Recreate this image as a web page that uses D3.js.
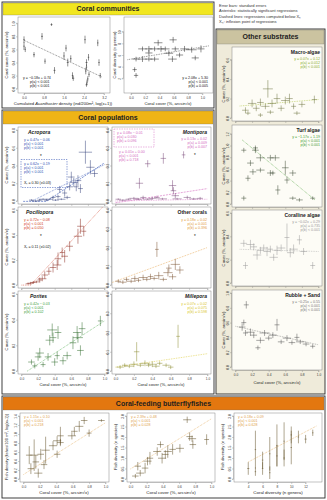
<!DOCTYPE html>
<html><head><meta charset="utf-8">
<script src="https://cdn.jsdelivr.net/npm/d3@7"></script>
<style>body{margin:0;background:#fff}svg{display:block;font-family:"Liberation Sans",Arial,sans-serif}</style>
</head><body><script>
// ================= DATA =================
const headerTitles = ["Coral communities","Coral populations","Other substrates","Coral-feeding butterflyfishes"];
const legendLines = ["Error bars: standard errors","Asterisks: statistically significant regressions","Dashed lines: regressions computed below Xₙ","Xₙ: inflexion point of regressions"];
const coverTicks = [0,0.2,0.4,0.6,0.8,1.0];

// Coral communities  [x, y, xSE, ySE]
const densTicks = [0,0.8,1.6,2.4,3.2];
const commCoverTicks = [0,0.2,0.4,0.6,0.8,1.0];
const commDens = [[0,0.75,0.03,0.05],[0,0.65,0.03,0.06],[0.05,0.6,0.02,0.04],[0.4,0.52,0.04,0.04],[0.72,0.8,0.04,0.05],[0.84,0.42,0.03,0.04],[1.1,0.98,0.04,0.02],[1.22,0.28,0.04,0.05],[1.6,0.5,0.03,0.06],[1.68,0.62,0.03,0.05],[1.75,0.4,0.04,0.06],[1.87,0.46,0.03,0.05],[1.94,0.2,0.03,0.05],[1.97,0.16,0.04,0.04],[2.44,0.75,0.03,0.06],[2.5,0.4,0.04,0.05],[2.5,0.33,0.03,0.04],[2.47,0.27,0.03,0.05],[2.55,0.15,0.03,0.04],[2.52,0.1,0.03,0.04],[2.5,0.06,0.04,0.03],[2.58,0.48,0.03,0.05],[2.95,0.7,0.03,0.05],[3.0,0.4,0.03,0.05],[3.05,0.2,0.03,0.04],[2.6,0.22,0.03,0.04]];
const commDensFit = {a:-0.18,b:0.74,x0:0,x1:3.1};
const divTicks = [2,4,6,8,10];
const commDiv = [[0.05,3.5,0.03,0.4],[0.07,2.5,0.03,0.4],[0.16,7.05,0.06,0.4],[0.25,7.05,0.05,0.5],[0.33,7.05,0.07,0.4],[0.42,7.05,0.05,0.5],[0.48,7.05,0.06,0.4],[0.07,5.3,0.05,0.4],[0.16,5.3,0.06,0.5],[0.25,5.3,0.05,0.4],[0.33,5.3,0.06,0.4],[0.25,6.35,0.05,0.5],[0.38,8.1,0.06,0.5],[0.59,8.6,0.05,0.5],[0.85,6.9,0.07,0.5],[0.98,7.05,0.05,0.6],[0.9,5.5,0.05,0.4],[0.58,5.3,0.06,0.5],[0.68,6.0,0.05,0.4],[0.75,7.05,0.06,0.5],[0.62,7.05,0.05,0.4],[0.53,6.3,0.06,0.5]];
const commDivFit = {a:2.08,b:5.30,x0:-0.05,x1:1.1};

// Coral populations
const acroData = [[0.12,0.01,0.03,0.01],[0.17,0.00,0.04,0.01],[0.22,0.01,0.03,0.01],[0.26,0.02,0.05,0.01],[0.30,0.01,0.03,0.01],[0.34,0.02,0.04,0.01],[0.38,0.04,0.03,0.02],[0.41,0.01,0.04,0.01],[0.44,0.05,0.03,0.02],[0.48,0.02,0.05,0.01],[0.52,0.09,0.03,0.04],[0.55,0.04,0.04,0.02],[0.58,0.16,0.04,0.04],[0.60,0.27,0.04,0.06],[0.63,0.21,0.05,0.05],[0.66,0.16,0.03,0.05],[0.68,0.23,0.04,0.06],[0.71,0.14,0.03,0.05],[0.77,0.55,0.08,0.13],[0.83,0.38,0.05,0.08],[0.88,0.31,0.04,0.04],[0.46,0.13,0.03,0.04]];
const acroFit = {a:0.47,b:-0.06,x0:0.13,x1:1.0};
const acroSeg = {a:0.62,b:-0.19,xn:0.30,x0:0.02,x1:1.0};
const montiData = [[0.03,0.01,0.03,0.005],[0.08,0.005,0.04,0.005],[0.14,0.01,0.03,0.005],[0.2,0.015,0.05,0.008],[0.25,0.01,0.04,0.005],[0.3,0.02,0.03,0.01],[0.35,0.01,0.05,0.005],[0.40,0.015,0.04,0.008],[0.45,0.02,0.03,0.01],[0.26,0.10,0.04,0.03],[0.35,0.21,0.03,0.02],[0.52,0.24,0.03,0.03],[0.51,0.012,0.05,0.006],[0.62,0.087,0.04,0.03],[0.63,0.058,0.03,0.02],[0.65,0.03,0.04,0.015],[0.67,0.012,0.05,0.006],[0.74,0.26,0.02,0.02],[0.78,0.02,0.04,0.01],[0.85,0.012,0.05,0.006],[0.92,0.015,0.03,0.008]];
const montiFitA = {a:0.08,b:-0.01,x0:0,x1:1.0};
const montiFitB = {a:0.01,b:0.00,x0:0,x1:1.0};
const montiFitC = {a:0.13,b:0.02};
const pocilData = [[0.08,0.01,0.03,0.005],[0.11,0.015,0.04,0.01],[0.14,0.02,0.03,0.01],[0.18,0.025,0.04,0.01],[0.22,0.04,0.03,0.02],[0.25,0.05,0.05,0.02],[0.28,0.08,0.04,0.03],[0.33,0.11,0.03,0.03],[0.38,0.14,0.04,0.04],[0.43,0.16,0.05,0.04],[0.44,0.21,0.04,0.05],[0.49,0.26,0.03,0.04],[0.52,0.23,0.04,0.05],[0.58,0.31,0.04,0.04],[0.68,0.39,0.05,0.06],[0.71,0.47,0.04,0.06],[0.75,0.43,0.03,0.04]];
const pocilFit = {a:0.72,b:-0.08,xn:0.11,x0:0,x1:1.0};
const otherData = [[0.03,0.02,0.03,0.01],[0.08,0.015,0.04,0.01],[0.12,0.03,0.03,0.01],[0.17,0.02,0.05,0.01],[0.21,0.035,0.04,0.015],[0.25,0.025,0.03,0.01],[0.3,0.04,0.05,0.015],[0.34,0.03,0.04,0.01],[0.38,0.045,0.03,0.015],[0.42,0.035,0.04,0.01],[0.47,0.05,0.05,0.02],[0.45,0.19,0.02,0.04],[0.52,0.03,0.04,0.01],[0.57,0.066,0.05,0.02],[0.62,0.044,0.04,0.015],[0.65,0.11,0.05,0.03],[0.7,0.08,0.04,0.02],[0.58,0.09,0.03,0.02]];
const otherFit = {a:0.18,b:0.02,x0:-0.04,x1:1.0};
const poritData = [[0.12,0.07,0.04,0.02],[0.16,0.04,0.03,0.02],[0.2,0.11,0.04,0.03],[0.22,0.14,0.05,0.04],[0.26,0.05,0.03,0.02],[0.32,0.11,0.04,0.03],[0.34,0.24,0.05,0.04],[0.37,0.32,0.06,0.05],[0.38,0.26,0.04,0.04],[0.4,0.07,0.04,0.03],[0.43,0.12,0.03,0.03],[0.44,0.3,0.04,0.05],[0.5,0.08,0.04,0.03],[0.55,0.12,0.05,0.03],[0.62,0.22,0.04,0.05],[0.67,0.3,0.05,0.05],[0.68,0.26,0.06,0.04],[0.71,0.16,0.04,0.04],[0.73,0.33,0.04,0.05],[0.95,0.39,0.03,0.04]];
const poritFit = {a:0.42,b:-0.03,x0:0.07,x1:1.0};
const milleData = [[0.05,0.02,0.04,0.01],[0.1,0.03,0.03,0.01],[0.15,0.025,0.05,0.01],[0.2,0.035,0.04,0.015],[0.23,0.1,0.03,0.05],[0.27,0.03,0.04,0.01],[0.32,0.04,0.05,0.015],[0.36,0.03,0.03,0.01],[0.4,0.035,0.05,0.015],[0.44,0.025,0.04,0.01],[0.48,0.04,0.03,0.01],[0.55,0.03,0.04,0.01],[0.6,0.02,0.03,0.01],[0.68,0.18,0.02,0.06]];
const milleFit = {a:0.07,b:0.02,x0:0,x1:1.0};

// Other substrates
const macroData = [[0.12,0.08,0.04,0.03],[0.15,0.05,0.03,0.02],[0.2,0.15,0.05,0.04],[0.25,0.1,0.04,0.03],[0.3,0.16,0.04,0.04],[0.3,0.03,0.03,0.02],[0.36,0.12,0.05,0.03],[0.39,0.30,0.06,0.09],[0.42,0.06,0.04,0.02],[0.44,0.15,0.05,0.04],[0.5,0.2,0.04,0.05],[0.55,0.1,0.04,0.03],[0.6,0.18,0.05,0.04],[0.65,0.2,0.04,0.05],[0.7,0.12,0.03,0.03],[0.74,0.05,0.04,0.02],[0.8,0.14,0.04,0.03],[0.95,0.19,0.03,0.04]];
const macroFit = {a:0.07,b:0.12,x0:0.05,x1:1.0};
const turfData = [[0.1,0.92,0.03,0.04],[0.24,0.92,0.04,0.05],[0.18,0.7,0.04,0.05],[0.3,0.79,0.05,0.06],[0.42,0.79,0.04,0.05],[0.48,0.79,0.05,0.05],[0.21,0.55,0.04,0.05],[0.3,0.58,0.05,0.04],[0.42,0.53,0.04,0.05],[0.45,0.53,0.03,0.04],[0.6,0.62,0.04,0.12],[0.69,0.53,0.04,0.05],[0.62,0.41,0.03,0.06],[0.15,0.44,0.03,0.05],[0.51,0.24,0.03,0.08],[0.1,0.1,0.03,0.04],[0.69,0.1,0.04,0.03],[0.77,0.07,0.04,0.03],[0.93,0.1,0.03,0.03],[0.24,0.96,0.03,0.04]];
const turfFit = {a:-1.17,b:1.19,x0:0.08,x1:0.96};
const corallData = [[0.1,0.34,0.04,0.03],[0.12,0.15,0.03,0.03],[0.18,0.33,0.05,0.04],[0.22,0.31,0.04,0.03],[0.26,0.24,0.05,0.04],[0.3,0.28,0.04,0.03],[0.34,0.3,0.05,0.03],[0.38,0.27,0.04,0.04],[0.42,0.29,0.03,0.03],[0.46,0.22,0.05,0.03],[0.5,0.28,0.04,0.04],[0.55,0.3,0.05,0.03],[0.62,0.39,0.03,0.12],[0.66,0.26,0.04,0.04],[0.7,0.29,0.05,0.04],[0.77,0.37,0.03,0.04],[0.82,0.27,0.04,0.03],[0.93,0.15,0.03,0.03]];
const corallFit = {a:-0.02,b:0.29,x0:0.05,x1:1.0};
const rubbleData = [[0.13,0.84,0.03,0.05],[0.08,0.54,0.04,0.05],[0.12,0.46,0.03,0.04],[0.18,0.47,0.05,0.05],[0.22,0.43,0.04,0.04],[0.27,0.26,0.03,0.03],[0.3,0.36,0.05,0.04],[0.35,0.46,0.06,0.04],[0.4,0.39,0.04,0.03],[0.45,0.43,0.05,0.04],[0.5,0.57,0.03,0.08],[0.55,0.34,0.04,0.03],[0.62,0.39,0.05,0.04],[0.68,0.33,0.04,0.03],[0.74,0.4,0.03,0.05],[0.78,0.34,0.05,0.03],[0.93,0.28,0.03,0.03],[0.85,0.31,0.04,0.03],[0.1,0.6,0.03,0.04]];
const rubbleFit = {a:-0.25,b:0.55,x0:0,x1:1.0};

// Butterflyfishes
const fishDensTicks = [0,0.2,0.4,0.6,0.8,1.0,1.2,1.4];
const fishDivTicks = [0,0.5,1.0,1.5,2.0,2.5,3.0];
const genusTicks = [4,6,8,10,12];
const fishAData = [[0.74,1.3,0.04,0.08],[0.95,1.3,0.04,0.03],[0.68,1.17,0.05,0.12],[0.62,1.06,0.04,0.1],[0.8,1.02,0.03,0.08],[0.59,0.96,0.05,0.08],[0.45,0.96,0.04,0.2],[0.41,0.85,0.05,0.1],[0.45,0.81,0.04,0.08],[0.36,0.74,0.05,0.1],[0.41,0.55,0.04,0.08],[0.27,0.64,0.05,0.3],[0.21,0.55,0.04,0.12],[0.13,0.53,0.05,0.35],[0.07,0.53,0.04,0.2],[0.15,0.38,0.04,0.15],[0.18,0.13,0.05,0.1],[0.25,0.32,0.04,0.1],[0.09,0.23,0.04,0.12]];
const fishAFit = {a:1.15,b:0.10,x0:0,x1:1.0};
const fishBData = [[0.7,2.82,0.05,0.15],[0.73,2.02,0.04,0.2],[0.76,1.92,0.05,0.15],[0.77,1.64,0.04,0.2],[0.94,1.88,0.03,0.25],[0.61,1.46,0.05,0.2],[0.52,1.41,0.04,0.25],[0.46,1.31,0.05,0.3],[0.43,1.17,0.04,0.2],[0.39,0.99,0.05,0.25],[0.09,0.61,0.04,0.2],[0.12,0.28,0.05,0.15],[0.18,0.52,0.04,0.25],[0.21,0.85,0.05,0.2],[0.24,0.99,0.04,0.3],[0.33,1.31,0.05,0.2],[0.37,1.64,0.04,0.15],[0.06,0.14,0.04,0.1]];
const fishBFit = {a:2.39,b:0.48,x0:0,x1:1.0};
const fishCData = [[4,0.5,0.15,0.3],[5,1.4,0.1,0.9],[5,0.35,0.1,0.2],[6,0.9,0.1,0.4],[6,0.5,0.1,0.3],[7,1.2,0.1,0.8],[7,0.3,0.1,0.3],[8,1.6,0.1,1.0],[8,1.1,0.1,0.5],[9,1.8,0.1,0.9],[9,1.0,0.1,0.4],[10,1.5,0.1,0.8],[10,2.1,0.1,0.4],[11,2.0,0.1,0.3],[12,1.9,0.15,0.2],[13,2.2,0.1,0.15]];
const fishCFit = {a:0.18,b:0.09,x0:4,x1:13.5};

// ================= DRAWING =================
const svg = d3.select('body').append('svg').attr('width',327).attr('height',500);
const defs = svg.append('defs');
let clipN = 0;
const f1 = d3.format('.1f');
function eqStr(f){const s=f.b<0?'−':'+';return `y = ${f.a<0?'−':''}${Math.abs(f.a).toFixed(2)}x ${s} ${Math.abs(f.b).toFixed(2)}`;}

function box(x,y,w,h,fill,hfill,hh,title,tcol){
  svg.append('rect').attr('x',x).attr('y',y).attr('width',w).attr('height',h).attr('fill',fill).attr('stroke','#2a2a2a').attr('stroke-width',0.9);
  svg.append('rect').attr('x',x+1).attr('y',y+1).attr('width',w-2).attr('height',hh).attr('fill',hfill).attr('stroke','#6a6a6a').attr('stroke-width',0.3);
  svg.append('text').attr('x',x+w/2).attr('y',y+1+hh/2+2.4).attr('text-anchor','middle').attr('font-size',7).attr('font-weight','bold').attr('fill',tcol||'#1e1e1e').text(title);
}
function txt(x,y,t,o={}){
  return svg.append('text').attr('x',x).attr('y',y).attr('font-size',o.size||3.6).attr('fill',o.color||'#222')
   .attr('text-anchor',o.anchor||'start').attr('font-weight',o.weight||'normal').attr('font-style',o.style||'normal').text(t);
}
function block(x,y,lines,color,anchor){lines.forEach((l,i)=>txt(x,y+i*4.2,l,{color,anchor}));}
function vtitle(x,cy,t,size){svg.append('text').attr('transform',`translate(${x},${cy}) rotate(-90)`).attr('text-anchor','middle').attr('font-size',size||4.2).attr('fill','#222').text(t);}

function panel(c){
  const f=c.frame, g=svg.append('g');
  g.append('rect').attr('x',f.x).attr('y',f.y).attr('width',f.w).attr('height',f.h).attr('fill',c.bg||'#fff').attr('stroke','#7a7a7a').attr('stroke-width',0.45);
  const x=d3.scaleLinear().domain(c.xd).range([f.x+3.5,f.x+f.w-3.5]);
  const y=d3.scaleLinear().domain(c.yd).range([f.y+f.h-3,f.y+3]);
  const ya=g.append('g').attr('transform',`translate(${f.x-0.5},0)`).call(d3.axisLeft(y).tickValues(c.yt).tickSize(1.5).tickSizeOuter(0).tickFormat(c.yf||f1));
  ya.selectAll('text').attr('font-size',3.2).attr('fill','#333').attr('dy',null).attr('text-anchor','middle').attr('x',0).attr('y',-2.6).attr('transform','rotate(-90)');
  ya.select('.domain').attr('d',`M-1.5,${y(c.yt[0])}H0V${y(c.yt[c.yt.length-1])}H-1.5`).attr('stroke','#777').attr('stroke-width',0.35);
  const xa=g.append('g').attr('transform',`translate(0,${f.y+f.h+0.5})`).call(d3.axisBottom(x).tickValues(c.xt).tickSize(1.5).tickSizeOuter(0).tickFormat(c.xl?(c.xf||f1):''));
  xa.selectAll('text').attr('font-size',3.2).attr('fill','#333').attr('dy','0.2em');
  xa.select('.domain').attr('d',`M${x(c.xt[0])},1.5V0H${x(c.xt[c.xt.length-1])}V1.5`).attr('stroke','#777').attr('stroke-width',0.35);
  g.selectAll('.tick line').attr('stroke','#777').attr('stroke-width',0.35);
  const id='c'+(clipN++);
  defs.append('clipPath').attr('id',id).append('rect').attr('x',f.x).attr('y',f.y).attr('width',f.w).attr('height',f.h);
  const inner=g.append('g').attr('clip-path',`url(#${id})`);
  (c.fits||[]).forEach(ft=>{
    const fn=ft.fit; let pts;
    if(fn.xn!=null){const yf=fn.a*fn.xn+fn.b;pts=[[fn.x0,yf],[fn.xn,yf],[fn.x1,fn.a*fn.x1+fn.b]];}
    else pts=[[fn.x0,fn.a*fn.x0+fn.b],[fn.x1,fn.a*fn.x1+fn.b]];
    inner.append('path').attr('d',d3.line().x(d=>x(d[0])).y(d=>y(d[1]))(pts)).attr('fill','none')
      .attr('stroke',ft.color).attr('stroke-width',ft.w||0.6).attr('stroke-dasharray',ft.dash||'0.8,0.9');
  });
  const pts=inner.selectAll('g.pt').data(c.data).join('g').attr('class','pt');
  pts.append('line').attr('x1',d=>x(d[0]-d[2])).attr('x2',d=>x(d[0]+d[2])).attr('y1',d=>y(d[1])).attr('y2',d=>y(d[1]));
  pts.append('line').attr('x1',d=>x(d[0])).attr('x2',d=>x(d[0])).attr('y1',d=>y(d[1]-d[3])).attr('y2',d=>y(d[1]+d[3]));
  pts.selectAll('line').attr('stroke',c.pc).attr('stroke-width',c.pw||0.5);
  return {x,y};
}

// ---------- boxes ----------
box(2,2,212,106,'#fff','#f1e61f',12,headerTitles[0]);
box(2,110,212,284,'#fff','#efb416',13,headerTitles[1]);
box(216,29,109,365,'#efebda','#cbc3a0',14,headerTitles[2]);
box(2,396,323,102,'#fff','#e3770f',13,headerTitles[3]);
legendLines.forEach((l,i)=>txt(219,7+i*5.4,l,{size:4,color:'#333'}));

// ---------- coral communities ----------
panel({frame:{x:18,y:17,w:92,h:76},xd:[-0.1,3.3],yd:[-0.02,1.05],xt:densTicks,yt:commCoverTicks,xl:true,data:commDens,pc:'#222',
  fits:[{fit:commDensFit,color:'#333'}]});
txt(23,79,eqStr(commDensFit),{color:'#111'}); txt(30,83.2,'p(a) < 0.001',{color:'#111'}); txt(30,87.4,'p(b) < 0.001',{color:'#111'});
vtitle(8,55,'Coral cover (%, arcsin√x)');
svg.append('text').attr('x',63).attr('y',105).attr('text-anchor','middle').attr('font-size',4.2).attr('fill','#222')
  .call(t=>{t.append('tspan').text('Cumulated ');t.append('tspan').attr('font-style','italic').text('Acanthaster');t.append('tspan').text(' density (ind/200m², log(x+1))');});
panel({frame:{x:124,y:17,w:89,h:76},xd:[-0.05,1.1],yd:[0,12],xt:coverTicks,yt:divTicks,xl:true,yf:d3.format('d'),data:commDiv,pc:'#222',
  fits:[{fit:commDivFit,color:'#333'}]});
block(208,79,[eqStr(commDivFit),'p(a) < 0.001','p(b) = 0.005'],'#111','end');
vtitle(116,55,'Coral diversity (n genera)');
txt(168,105,'Coral cover (%, arcsin√x)',{size:4.2,anchor:'middle'});

// ---------- coral populations ----------
const popBlue='#2d4fb3', popPink='#d46ac0', popRed='#d23a22', popOrange='#e39a3a', popGreen='#3ba13a', popYellow='#d9c625';
panel({frame:{x:18,y:127,w:90,h:77},xd:[0,1],yd:[0,0.8],xt:coverTicks,yt:[0,0.2,0.4,0.6,0.8],data:acroData,pc:'#34407a',
  fits:[{fit:acroFit,color:popBlue},{fit:acroSeg,color:popBlue,dash:'2,1'}]});
txt(28,133.5,'Acropora',{size:5,weight:'bold',style:'italic'});
block(24,141,[eqStr(acroFit),'p(a) < 0.001','p(b) < 0.001'],popBlue);
txt(40,157.5,'*',{size:4.5,color:'#111'});
svg.append('rect').attr('x',21).attr('y',159.5).attr('width',46).attr('height',28).attr('fill','none').attr('stroke',popBlue).attr('stroke-width',0.5).attr('stroke-dasharray','1.5,1');
block(24,164.5,[eqStr(acroSeg),'p(a) < 0.001','p(b) < 0.001'],popBlue);
txt(24,184,'Xₙ = 0.30 (±0.03)',{color:'#111'});

panel({frame:{x:112,y:127,w:99,h:77},xd:[0,1],yd:[0,0.4],xt:coverTicks,yt:[0,0.1,0.2,0.3,0.4],data:montiData,pc:'#7a4a7a',
  fits:[{fit:montiFitA,color:popPink,dash:'2,1'},{fit:montiFitB,color:popPink}]});
txt(207,133.5,'Montipora',{size:5,weight:'bold',style:'italic',anchor:'end'});
svg.append('rect').attr('x',114).attr('y',129).attr('width',40).attr('height',18).attr('fill','#fff').attr('stroke',popPink).attr('stroke-width',0.5).attr('stroke-dasharray','1.5,1');
block(117,134,[eqStr(montiFitA),'p(a) = 0.030','p(b) = 0.096'],popPink);
block(119,153,[eqStr(montiFitB),'p(a) < 0.001','p(b) = 0.718'],popPink);
block(207,140,[eqStr(montiFitC),'p(a) = 0.009','p(b) = 0.007'],popPink,'end');
txt(194,157,'*',{size:4.5,color:'#111'});

panel({frame:{x:18,y:207,w:90,h:81},xd:[0,1],yd:[0,0.6],xt:coverTicks,yt:[0,0.2,0.4,0.6],data:pocilData,pc:'#8a2a1e',
  fits:[{fit:pocilFit,color:popRed}]});
txt(26,213.5,'Pocillopora',{size:5,weight:'bold',style:'italic'});
block(24,220.5,[eqStr(pocilFit),'p(a) < 0.001','p(b) = 0.050'],popRed);
txt(40,238,'*',{size:4.5,color:'#111'});
txt(24,248,'Xₙ = 0.11 (±0.02)',{color:'#111'});

panel({frame:{x:112,y:207,w:99,h:81},xd:[0,1],yd:[0,0.4],xt:coverTicks,yt:[0,0.1,0.2,0.3,0.4],data:otherData,pc:'#7a5330',
  fits:[{fit:otherFit,color:popOrange}]});
txt(207,213.5,'Other corals',{size:5,weight:'bold',anchor:'end'});
block(207,220.5,[eqStr(otherFit),'p(a) = 0.001','p(b) = 0.396'],popOrange,'end');
txt(194,238,'*',{size:4.5,color:'#111'});

panel({frame:{x:18,y:291,w:90,h:83},xd:[0,1],yd:[0,0.6],xt:coverTicks,yt:[0,0.2,0.4,0.6],xl:true,data:poritData,pc:'#2f6b2a',
  fits:[{fit:poritFit,color:popGreen}]});
txt(30,297.5,'Porites',{size:5,weight:'bold',style:'italic'});
block(24,305,[eqStr(poritFit),'p(a) < 0.001','p(b) = 0.102'],popGreen);

panel({frame:{x:112,y:291,w:99,h:83},xd:[0,1],yd:[0,0.4],xt:coverTicks,yt:[0,0.1,0.2,0.3,0.4],xl:true,data:milleData,pc:'#8a8a30',
  fits:[{fit:milleFit,color:popYellow}]});
txt(207,297.5,'Millepora',{size:5,weight:'bold',style:'italic',anchor:'end'});
block(207,305,[eqStr(milleFit),'p(a) = 0.075','p(b) = 0.598'],popYellow,'end');

vtitle(8,165,'Cover (%, arcsin√x)'); vtitle(8,247,'Cover (%, arcsin√x)'); vtitle(8,332,'Cover (%, arcsin√x)');
txt(63,386,'Coral cover (%, arcsin√x)',{size:4.2,anchor:'middle'});
txt(161,386,'Coral cover (%, arcsin√x)',{size:4.2,anchor:'middle'});

// ---------- other substrates ----------
const subGreen='#3f9a2e';
panel({frame:{x:232,y:47,w:90,h:74},bg:'#fdfcf6',xd:[0,1],yd:[0,0.7],xt:coverTicks,yt:[0,0.2,0.4,0.6],data:macroData,pc:'#6f7440',
  fits:[{fit:macroFit,color:'#a8c030'}]});
txt(320,53.5,'Macro-algae',{size:5,weight:'bold',anchor:'end'});
block(320,60,[eqStr(macroFit),'p(a) = 0.012','p(b) < 0.001'],'#86ad2a','end');
panel({frame:{x:232,y:125,w:90,h:82},bg:'#fdfcf6',xd:[0,1],yd:[0,1.3],xt:coverTicks,yt:[0,0.2,0.4,0.6,0.8,1.0,1.2],data:turfData,pc:'#3d4a35',
  fits:[{fit:turfFit,color:subGreen}]});
txt(320,131.5,'Turf algae',{size:5,weight:'bold',anchor:'end'});
block(320,138,[eqStr(turfFit),'p(a) < 0.001','p(b) < 0.001'],subGreen,'end');
panel({frame:{x:232,y:210,w:90,h:76},bg:'#fdfcf6',xd:[0,1],yd:[0,0.6],xt:coverTicks,yt:[0,0.2,0.4,0.6],data:corallData,pc:'#9a9a9a',
  fits:[{fit:corallFit,color:'#aaa'}]});
txt(320,216.5,'Coralline algae',{size:5,weight:'bold',anchor:'end'});
block(320,223,[eqStr(corallFit),'p(a) = 0.735','p(b) < 0.001'],'#999','end');
panel({frame:{x:232,y:290,w:90,h:80},bg:'#fdfcf6',xd:[0,1],yd:[0,1.0],xt:coverTicks,yt:[0,0.2,0.4,0.6,0.8,1.0],xl:true,data:rubbleData,pc:'#555',
  fits:[{fit:rubbleFit,color:'#777'}]});
txt(320,296.5,'Rubble + Sand',{size:5,weight:'bold',anchor:'end'});
block(320,303,[eqStr(rubbleFit),'p(a) < 0.001','p(b) < 0.001'],'#777','end');
vtitle(225,84,'Cover (%, arcsin√x)'); vtitle(225,166,'Cover (%, arcsin√x)'); vtitle(225,248,'Cover (%, arcsin√x)'); vtitle(225,330,'Cover (%, arcsin√x)');
txt(277,384,'Coral cover (%, arcsin√x)',{size:4.2,anchor:'middle'});

// ---------- butterflyfishes ----------
const fishTan='#e0a24c', fishPt='#5e4c22';
panel({frame:{x:20,y:413,w:89,h:69},xd:[0,1],yd:[0,1.4],xt:coverTicks,yt:fishDensTicks,xl:true,data:fishAData,pc:fishPt,
  fits:[{fit:fishAFit,color:fishTan}]});
block(24,418,[eqStr(fishAFit),'p(a) < 0.001','p(b) = 0.218'],fishTan);
panel({frame:{x:127,y:413,w:88,h:69},xd:[0,1],yd:[0,3],xt:coverTicks,yt:fishDivTicks,xl:true,data:fishBData,pc:fishPt,
  fits:[{fit:fishBFit,color:fishTan}]});
block(131,418,[eqStr(fishBFit),'p(a) < 0.001','p(b) = 0.028'],fishTan);
panel({frame:{x:234,y:413,w:88,h:69},xd:[2.5,13.8],yd:[0,3],xt:genusTicks,yt:fishDivTicks,xl:true,xf:d3.format('d'),data:fishCData,pc:fishPt,
  fits:[{fit:fishCFit,color:fishTan}]});
block(238,418,[eqStr(fishCFit),'p(a) < 0.001','p(b) = 0.628'],fishTan);
vtitle(8,447,'Fish density (fishes/100 m², log(x+1))',4);
vtitle(117,447,'Fish diversity (n species)');
vtitle(224,447,'Fish diversity (n species)');
txt(64,494,'Coral cover (%, arcsin√x)',{size:4.4,anchor:'middle'});
txt(171,494,'Coral cover (%, arcsin√x)',{size:4.4,anchor:'middle'});
txt(278,494,'Coral diversity (n genera)',{size:4.4,anchor:'middle'});
</script></body></html>
